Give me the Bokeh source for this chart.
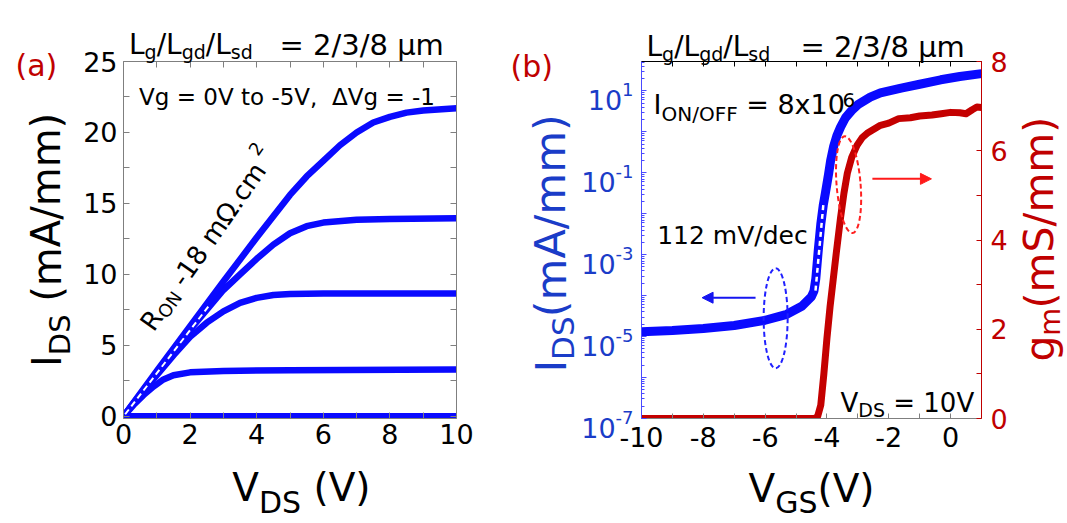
import math
from bokeh.plotting import figure
from bokeh.layouts import row
from bokeh.models import (LinearAxis, FixedTicker, Range1d, LinearScale, ColumnDataSource,
                          Arrow, NormalHead, CustomJSTickFormatter)
from bokeh.core.properties import value
from bokeh.embed import file_html
from bokeh.resources import INLINE

# ---------------- data: panel (a) output characteristics ----------------
vds_g0 = [0, 1, 2, 3, 4, 5, 5.5, 6, 6.5, 7, 7.5, 8, 8.5, 9, 10]
ids_g0 = [0, 3.2, 6.35, 9.5, 12.6, 15.6, 16.9, 18.0, 19.1, 20.0, 20.7, 21.1, 21.4, 21.55, 21.7]
vds_g1 = [0, 1, 2, 3, 3.5, 4, 4.5, 5, 5.5, 6, 7, 8, 10]
ids_g1 = [0, 3.1, 6.1, 8.9, 10.0, 11.1, 12.1, 12.9, 13.4, 13.65, 13.85, 13.9, 13.95]
vds_g2 = [0, 0.5, 1, 1.5, 2, 2.5, 3, 3.5, 4, 4.5, 5, 6, 10]
ids_g2 = [0, 1.5, 2.9, 4.3, 5.6, 6.6, 7.4, 8.0, 8.35, 8.55, 8.62, 8.65, 8.65]
vds_g3 = [0, 0.3, 0.6, 0.9, 1.2, 1.5, 2, 3, 5, 10]
ids_g3 = [0, 0.8, 1.5, 2.1, 2.6, 2.9, 3.1, 3.2, 3.25, 3.3]
vds_g4 = [0, 10]
ids_g4 = [0, 0]
vds_g5 = [0, 10]
ids_g5 = [0, 0]
ron_x = [0.05, 2.6]
ron_y = [0.15, 7.9]
xticks_a = [0, 2, 4, 6, 8, 10]
xminor_a = [1, 3, 5, 7, 9]
yticks_a = [0, 5, 10, 15, 20, 25]
yminor_a = [2.5, 7.5, 12.5, 17.5, 22.5]

# ---------------- data: panel (b) transfer characteristics ----------------
vgs_i = [-10, -9, -8, -7, -6, -5.3, -4.8, -4.5, -4.42, -4.36, -4.28, -4.2, -4.12, -4.05,
         -3.95, -3.88, -3.78, -3.68, -3.56, -3.4, -3.2, -3.0, -2.6, -2.27, -1.6, -1.0,
         -0.32, 0.3, 1.0]
ids_b = [1.32e-5, 1.40e-5, 1.58e-5, 1.86e-5, 2.5e-5, 3.5e-5, 5.6e-5, 9.5e-5, 1.3e-4, 2.6e-4,
         1.3e-3, 5.5e-3, 1.6e-2, 3.2e-2, 0.09, 0.2, 0.45, 0.8, 1.3, 2.2, 3.3, 4.6, 7.0, 8.9,
         11.7, 14.5, 18.6, 22.4, 26.3]
vgs_g = [-10, -4.4, -4.3, -4.2, -4.1, -4.0, -3.9, -3.8, -3.7, -3.56, -3.45, -3.34, -3.2,
         -3.02, -2.85, -2.7, -2.27, -2.0, -1.68, -1.3, -1.0, -0.6, -0.3, 0.0, 0.3, 0.5, 0.7,
         0.85, 1.0]
gm_b = [0, 0, 0.05, 0.3, 1.0, 1.8, 2.5, 3.1, 3.7, 4.5, 5.05, 5.5, 5.85, 6.13, 6.3, 6.39,
        6.57, 6.62, 6.72, 6.74, 6.78, 6.80, 6.83, 6.86, 6.85, 6.83, 6.92, 6.98, 6.97]
ss_x = [-4.37, -4.11]
ss_y = [1.32e-4, 1.9e-2]
ell_blue_x = [-5.66]
ell_blue_y = [2.8e-5]
ell_red_x = [-3.3]
ell_red_y = [5.24]
arrow_blue_x = [-6.31, -8.04]
arrow_blue_y = [8.9e-5, 8.9e-5]
arrow_red_x = [-2.53, -0.62]
arrow_red_y = [5.37, 5.37]
xticks_b = [-10, -8, -6, -4, -2, 0]
xminor_b = [-9, -7, -5, -3, -1, 1]
decades_b = [1e-7, 1e-6, 1e-5, 1e-4, 1e-3, 1e-2, 1e-1, 1e0, 1e1]
labelled_exps = [1, -1, -3, -5, -7]
gm_ticks = [0, 2, 4, 6, 8]
gm_minor = [1, 3, 5, 7]

FONT = "DejaVu Sans"
BLUE = "#0a0aff"
BLUE_TXT = "#1a3cc8"
RED = "#c40000"
RED_TXT = "#c00000"
GREY = "#7f7f7f"

W = {' ': .318, '(': .390, ')': .390, '-': .361, '.': .318, ',': .318, '/': .337,
     '=': .838, 'A': .684, 'D': .770, 'F': .575, 'G': .775, 'I': .295, 'L': .557,
     'N': .748, 'O': .787, 'R': .695, 'S': .635, 'V': .684, 'c': .550, 'd': .635,
     'e': .615, 'g': .635, 'm': .974, 'n': .634, 'o': .612, 's': .521, 't': .392,
     'v': .592, 'x': .592, 'μ': .636, 'Ω': .764, 'Δ': .684}


def tw(s, size):
    return sum(W.get(c, .636) for c in s) * size


def new_store():
    return dict(x=[], y=[], text=[], size=[], color=[], angle=[])


def compose(store, tomap, X, Y, parts, angle_deg=0.0, color="black"):
    """Rich text (sub/superscripts) from page point X,Y (start of baseline)."""
    a = math.radians(angle_deg)
    ux, uy = math.cos(a), -math.sin(a)
    nx, ny = -math.sin(a), -math.cos(a)
    pos = 0.0
    for part in parts:
        text, size, rise = part[0], part[1], part[2]
        col = part[3] if len(part) > 3 else color
        lead = len(text) - len(text.lstrip(' '))
        pos += lead * W[' '] * size
        t = text.strip(' ')
        px = X + ux * pos + nx * rise
        py = Y + uy * pos + ny * rise
        dx, dy = tomap(px, py)
        store["x"].append(dx)
        store["y"].append(dy)
        store["text"].append(t)
        store["size"].append(f"{size}px")
        store["color"].append(col)
        store["angle"].append(a)
        pos += tw(t, size)


def style_axis(ax, color=GREY, label_color="black", size=27, show=True,
               tin=6, min_in=6, standoff=6):
    ax.axis_line_color = color
    ax.major_tick_line_color = color
    ax.minor_tick_line_color = color
    ax.major_tick_in = tin
    ax.major_tick_out = 0
    ax.minor_tick_in = min_in
    ax.minor_tick_out = 0
    ax.major_label_text_font = FONT
    ax.major_label_text_font_size = f"{size}px"
    ax.major_label_text_color = label_color
    ax.major_label_standoff = standoff
    if not show:
        ax.formatter = CustomJSTickFormatter(code="return '';")


# ============================ panel (a) ============================
FL1, FR1, FT1, FB1 = 123, 456, 61, 418
X0A, X1A, Y0A, Y1A = 0, 10, -0.15, 25
p1 = figure(width=495, height=523, x_range=Range1d(X0A, X1A), y_range=Range1d(Y0A, Y1A),
            output_backend="svg", toolbar_location=None,
            min_border_left=FL1, min_border_right=495 - FR1, min_border_top=FT1,
            min_border_bottom=523 - FB1)
p1.grid.visible = False
p1.outline_line_color = None
p1.background_fill_color = "white"
p1.border_fill_color = "white"


def map1(px, py):
    return (X0A + (px - FL1) / (FR1 - FL1) * (X1A - X0A),
            Y0A + (FB1 - py) / (FB1 - FT1) * (Y1A - Y0A))


p1.xaxis[0].ticker = FixedTicker(ticks=xticks_a, minor_ticks=xminor_a)
p1.yaxis[0].ticker = FixedTicker(ticks=yticks_a, minor_ticks=yminor_a)
style_axis(p1.xaxis[0], standoff=5)
style_axis(p1.yaxis[0], standoff=6)
p1.xaxis[0].formatter = CustomJSTickFormatter(code="return tick.toFixed(0);")
top1 = LinearAxis(ticker=FixedTicker(ticks=xticks_a, minor_ticks=xminor_a))
style_axis(top1, show=False)
p1.add_layout(top1, "above")
right1 = LinearAxis(ticker=FixedTicker(ticks=yticks_a, minor_ticks=yminor_a))
style_axis(right1, show=False)
p1.add_layout(right1, "right")

for xs, ys in [(vds_g5, ids_g5), (vds_g4, ids_g4), (vds_g3, ids_g3), (vds_g2, ids_g2),
               (vds_g1, ids_g1), (vds_g0, ids_g0)]:
    p1.line(xs, ys, line_color=BLUE, line_width=6.5, line_join="round")
p1.line(ron_x, ron_y, line_color="white", line_width=2, line_dash="6 4")

t1 = new_store()
compose(t1, map1, 15, 64.5, [("(a)", 30, 0)], color=RED_TXT)
compose(t1, map1, 128.5, 44, [("L", 28, 0), ("g", 19, -7), ("/L", 28, 0), ("gd", 19, -7),
                              ("/L", 28, 0), ("sd", 19, -7)])
compose(t1, map1, 279, 44, [("= 2/3/8 μm", 29, 0)])
compose(t1, map1, 138.6, 96.4, [("Vg = 0V to -5V,", 23, 0), ("  ΔVg = -1", 23, 0)])
compose(t1, map1, 146, 327, [("R", 26, 0), ("ON", 18, -6), (" -18 mΩ.cm", 26, 0),
                             (" 2", 18, 13)], angle_deg=55)
compose(t1, map1, 46, 366.5, [("I", 40, 0), ("DS", 29, -13), (" (mA/mm)", 40, 0)],
        angle_deg=90)
compose(t1, map1, 231.7, 487, [("V", 39, 0), ("DS", 30, -15), (" (V)", 39, 0)])
p1.text(x="x", y="y", text="text", source=ColumnDataSource(t1), text_font=value(FONT),
        text_font_size="size", text_color="color", angle="angle", text_align="left",
        text_baseline="alphabetic", level="overlay")

# ============================ panel (b) ============================
FL2, FR2, FT2, FB2 = 641, 981, 59, 423
X0B, X1B, Y0B, Y1B = -10, 1, 1e-7, 52
p2 = figure(width=572, height=523, x_range=Range1d(X0B, X1B), y_range=Range1d(Y0B, Y1B),
            y_axis_type="log", output_backend="svg", toolbar_location=None,
            min_border_left=FL2 - 495, min_border_right=1067 - FR2, min_border_top=FT2,
            min_border_bottom=523 - FB2)
p2.grid.visible = False
p2.outline_line_color = None
p2.background_fill_color = "white"
p2.border_fill_color = "white"
p2.extra_y_ranges = {"gm": Range1d(0, 8)}
p2.extra_y_scales = {"gm": LinearScale()}

LY0, LY1 = math.log10(Y0B), math.log10(Y1B)


def map2(px, py):
    return (X0B + (px - FL2) / (FR2 - FL2) * (X1B - X0B),
            10 ** (LY0 + (FB2 - py) / (FB2 - FT2) * (LY1 - LY0)))


def ypix2(v):
    return FB2 - (math.log10(v) - LY0) / (LY1 - LY0) * (FB2 - FT2)


p2.xaxis[0].ticker = FixedTicker(ticks=xticks_b, minor_ticks=xminor_b)
style_axis(p2.xaxis[0], standoff=8, tin=5, min_in=5)
p2.xaxis[0].formatter = CustomJSTickFormatter(code="return tick.toFixed(0);")

minors = []
for d in decades_b[:-1]:
    for k in range(2, 10):
        minors.append(d * k)
minors += [d * 1e1 for d in [2, 3, 4, 5]]
p2.yaxis[0].ticker = FixedTicker(ticks=decades_b, minor_ticks=minors)
style_axis(p2.yaxis[0], color="#4a4aff", show=False, tin=5, min_in=3)

top2 = LinearAxis(ticker=FixedTicker(ticks=xticks_b, minor_ticks=xminor_b))
style_axis(top2, color="black", show=False, tin=5, min_in=5)
p2.add_layout(top2, "above")

right2 = LinearAxis(y_range_name="gm", ticker=FixedTicker(ticks=gm_ticks, minor_ticks=gm_minor))
style_axis(right2, color=RED_TXT, label_color=RED_TXT, standoff=9, tin=5, min_in=5)
right2.formatter = CustomJSTickFormatter(code="return tick.toFixed(0);")
p2.add_layout(right2, "right")

p2.line(vgs_i, ids_b, line_color=BLUE, line_width=9, line_join="round")
p2.line(vgs_g, gm_b, y_range_name="gm", line_color=RED, line_width=7, line_join="round")
p2.line(ss_x, ss_y, line_color="white", line_width=2.5, line_dash="5 4")
p2.ellipse(x=ell_blue_x, y=ell_blue_y, width=24, height=100, width_units="screen",
           height_units="screen", fill_color=None, line_color="#2020ff", line_width=2,
           line_dash="5 3")
p2.ellipse(x=ell_red_x, y=ell_red_y, width=24, height=97, angle=0.08, width_units="screen",
           height_units="screen", fill_color=None, line_color="#ff2020", line_width=2,
           line_dash="5 3", y_range_name="gm")
p2.add_layout(Arrow(end=NormalHead(size=11, fill_color="#1515f0", line_color="#1515f0"),
                    x_start=arrow_blue_x[0], y_start=arrow_blue_y[0],
                    x_end=arrow_blue_x[1], y_end=arrow_blue_y[1],
                    line_color="#1515f0", line_width=2))
p2.add_layout(Arrow(end=NormalHead(size=11, fill_color="#ff1a1a", line_color="#ff1a1a"),
                    x_start=arrow_red_x[0], y_start=arrow_red_y[0],
                    x_end=arrow_red_x[1], y_end=arrow_red_y[1],
                    line_color="#ff1a1a", line_width=2, y_range_name="gm"))

t2 = new_store()
# log-axis tick labels 10^n (blue), right edge of group at page x 634
for e in labelled_exps:
    sup = str(e)
    start = 634 - tw(sup, 18) - 1 - tw("10", 27)
    base = ypix2(10.0 ** e) + 9.7
    compose(t2, map2, start, base, [("10", 27, 0), (sup, 18, 11)], color=BLUE_TXT)

compose(t2, map2, 510, 64.5, [("(b)", 30, 0)], color=RED_TXT)
compose(t2, map2, 646, 44, [("L", 28, 0), ("g", 19, -7), ("/L", 28, 0), ("gd", 19, -7),
                            ("/L", 28, 0), ("sd", 19, -7)])
compose(t2, map2, 800, 44, [("= 2/3/8 μm", 29, 0)])
compose(t2, map2, 653, 103.3, [("I", 27, 0), ("ON/OFF", 20, -9.4), (" = 8x10", 27, 0)])
compose(t2, map2, 842, 98.3, [("6", 20, 0)])
compose(t2, map2, 656.7, 236.7, [("112 mV/dec", 25, 0)])
compose(t2, map2, 840, 407, [("V", 26, 0), ("DS", 19, -7), (" = 10V", 26, 0)])
compose(t2, map2, 550, 376, [("I", 43, 0), ("DS", 31, -12), ("(mA/mm)", 43, 0)],
        angle_deg=90, color=BLUE_TXT)
compose(t2, map2, 1039, 365, [("g", 41, 0), ("m", 29, -10), ("(mS/mm)", 41, 0)],
        angle_deg=90, color=RED_TXT)
compose(t2, map2, 748, 494, [("V", 39, 0), ("GS", 30, -15), ("(V)", 39, 0)])
p2.text(x="x", y="y", text="text", source=ColumnDataSource(t2), text_font=value(FONT),
        text_font_size="size", text_color="color", angle="angle", text_align="left",
        text_baseline="alphabetic", level="overlay")

layout = row(p1, p2)
open("out.html", "w").write(file_html(layout, INLINE))
